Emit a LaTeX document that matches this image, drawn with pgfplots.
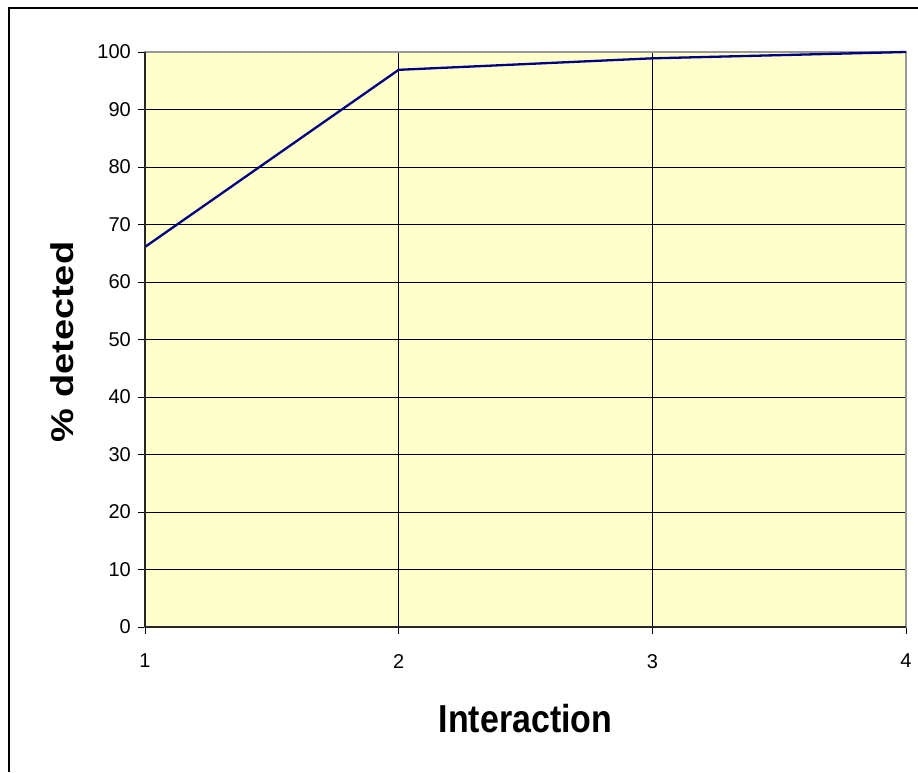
\documentclass[border=0pt]{standalone}
\usepackage{fontspec}
\setmainfont{Liberation Sans}
\usepackage{pgfplots}
\pgfplotsset{compat=1.18}
\definecolor{plotbg}{HTML}{FFFFCC}
\definecolor{navyline}{HTML}{000080}
\begin{document}
\begin{tikzpicture}[x=1pt,y=1pt]
\useasboundingbox (0,0) rectangle (918,772);
\draw[black, line width=1.2pt] (9,0) -- (9,764) -- (918,764);
\begin{axis}[
  at={(145pt,145pt)}, anchor=south west,
  width=761pt, height=575pt, scale only axis,
  xmin=1, xmax=4, ymin=0, ymax=100,
  xtick={1,2,3,4}, ytick={0,10,...,100},
  grid=major, major grid style={black, line width=0.8pt},
  axis background/.style={fill=plotbg},
  axis line style={gray!80, line width=1.5pt},
  tick align=outside, major tick length=7pt,
  tick style={black, line width=0.8pt},
  xtick pos=left, ytick pos=left,
  /pgf/number format/assume math mode=true,
  yticklabel style={font=\fontsize{20}{22}\selectfont, anchor=east, inner sep=0pt, xshift=-7pt},
  xticklabel style={font=\fontsize{20}{22}\selectfont, anchor=north, inner sep=0pt, yshift=-20pt},
  xlabel={\scalebox{0.87}[1]{Interaction}},
  xlabel style={font=\fontsize{39}{39}\selectfont\bfseries, at={(axis description cs:0.5,-0.1843)}, anchor=base},
  ylabel={\scalebox{1}[0.83]{\% detected}},
  ylabel style={font=\fontsize{38}{38}\selectfont\bfseries, at={(axis description cs:-0.1091,0.4957)}, anchor=center, rotate=0},
  clip=false,
]
\addplot[navyline, line width=2.3pt] coordinates {(1,66.1) (2,96.9) (3,98.9) (4,100)};
\draw[black!85, line width=1.4pt] (rel axis cs:0,0) -- (rel axis cs:0,1);
\draw[black!85, line width=1.4pt] (rel axis cs:0,0) -- (rel axis cs:1,0);
\end{axis}
\end{tikzpicture}
\end{document}
